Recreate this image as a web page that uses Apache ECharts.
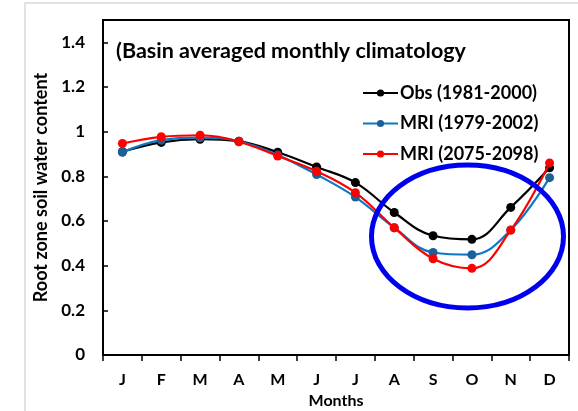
<!DOCTYPE html>
<html>
<head>
<meta charset="utf-8">
<script src="https://cdn.jsdelivr.net/npm/echarts@6/dist/echarts.min.js"></script>
<style>html,body{margin:0;padding:0;background:#fff}#c{width:578px;height:411px}</style>
</head>
<body>
<div id="c"></div>
<script>
var months = ['J','F','M','A','M','J','J','A','S','O','N','D'];
var obs = [0.91, 0.952, 0.966, 0.957, 0.908, 0.842, 0.772, 0.638, 0.534, 0.518, 0.661, 0.838];
var mriHist = [0.908, 0.962, 0.973, 0.957, 0.895, 0.808, 0.707, 0.57, 0.459, 0.449, 0.56, 0.794];
var mriFut = [0.947, 0.977, 0.984, 0.955, 0.891, 0.823, 0.727, 0.57, 0.431, 0.388, 0.559, 0.86];
var yTicks = [0, 0.2, 0.4, 0.6, 0.8, 1, 1.2, 1.4];
var seriesNames = ['Obs (1981-2000)', 'MRI (1979-2002)', 'MRI (2075-2098)'];

var FONT = 'Lato';
var chart = echarts.init(document.getElementById('c'), null, {renderer: 'canvas'});
var option = {
  animation: false,
  backgroundColor: '#fff',
  textStyle: {fontFamily: FONT},
  grid: {left: 103, right: 9, top: 20, bottom: 56, show: true, borderColor: '#000', borderWidth: 2,
         containLabel: false, outerBoundsMode: 'none'},
  title: {
    text: '(Basin averaged monthly climatology',
    left: 116, top: 40, padding: [0, 0, 0, 0],
    textStyle: {fontFamily: FONT, fontWeight: 'bold', fontSize: 21.5, color: '#000'}
  },
  legend: {
    orient: 'vertical', left: 362, top: 84, padding: 0,
    itemWidth: 35, itemHeight: 9, itemGap: 12.5,
    data: seriesNames,
    textStyle: {fontFamily: FONT, fontWeight: 'bold', fontSize: 18, color: '#000', padding: [0,0,0,-3]}
  },
  xAxis: {
    type: 'category', data: months, boundaryGap: true,
    name: 'Months', nameLocation: 'middle', nameGap: 34,
    nameTextStyle: {fontFamily: FONT, fontWeight: 'bold', fontSize: 16, color: '#000'},
    axisLine: {lineStyle: {color: '#000', width: 2}},
    axisTick: {show: true, inside: false, length: 6, lineStyle: {color: '#000', width: 1.5}},
    axisLabel: {margin: 17, fontFamily: FONT, fontWeight: 'bold', fontSize: 16, color: '#000'},
    splitLine: {show: false}
  },
  yAxis: {
    type: 'value', min: 0, max: 1.5, interval: 0.2,
    name: 'Root zone soil water content', nameLocation: 'middle', nameGap: 52,
    nameTextStyle: {fontFamily: FONT, fontWeight: 'bold', fontSize: 18, color: '#000'},
    axisLine: {show: true, lineStyle: {color: '#000', width: 2}},
    axisTick: {show: true, inside: true, length: 5, lineStyle: {color: '#000', width: 1.5}},
    axisLabel: {
      margin: 18, showMaxLabel: false, fontFamily: FONT, fontWeight: 'bold', fontSize: 17, color: '#000',
      formatter: function (v) { var r = Math.round(v * 10) / 10; return yTicks.indexOf(r) >= 0 ? String(r) : ''; }
    },
    splitLine: {show: false}
  },
  series: [
    {name: seriesNames[0], type: 'line', data: obs, smooth: 0.4, symbol: 'circle', symbolSize: 9,
     lineStyle: {color: '#000', width: 2.2}, itemStyle: {color: '#000'}, z: 2},
    {name: seriesNames[1], type: 'line', data: mriHist, smooth: 0.4, symbol: 'circle', symbolSize: 9,
     lineStyle: {color: '#0a78c2', width: 2.2}, itemStyle: {color: '#1f5f97'}, z: 3},
    {name: seriesNames[2], type: 'line', data: mriFut, smooth: 0.4, symbol: 'circle', symbolSize: 9,
     lineStyle: {color: '#ff0000', width: 2.2}, itemStyle: {color: '#ff0000'}, z: 4}
  ],
  graphic: [
    {type: 'rect', shape: {x: 25, y: 3, width: 700, height: 600}, style: {fill: 'none', stroke: '#d9d9d9', lineWidth: 1.5}, z: -10, silent: true},
    {type: 'ellipse', shape: {cx: 467.5, cy: 236.5, rx: 96, ry: 71.5}, style: {fill: 'none', stroke: '#0000f0', lineWidth: 5}, z: 100, silent: true}
  ]
};
chart.setOption(option);
</script>
</body>
</html>
